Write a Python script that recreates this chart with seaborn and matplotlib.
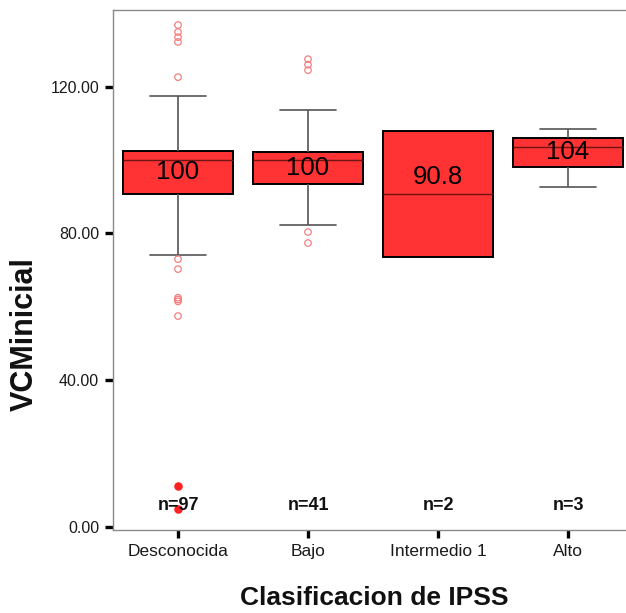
import numpy as np
import pandas as pd
import matplotlib
matplotlib.use("Agg")
import matplotlib.pyplot as plt
import seaborn as sns

# ---------------- data ----------------
categories = ["Desconocida", "Bajo", "Intermedio 1", "Alto"]

vcm_desconocida = [
    4.9, 11.2, 57.5, 61.5, 62.0, 62.5, 70.3, 73.0,
    74.1, 76.5, 78.2, 80.0, 81.3, 82.7, 83.5, 84.6, 85.4, 86.2,
    87.0, 87.8, 88.5, 89.1, 89.8, 90.4,
    90.8,
    91.0, 91.5, 92.0, 92.4, 92.9, 93.3, 93.8, 94.2, 94.6, 95.0,
    95.4, 95.8, 96.2, 96.6, 97.0, 97.4, 97.8, 98.1, 98.4, 98.7,
    99.0, 99.3, 99.6,
    100.0,
    100.0, 100.0, 100.1, 100.2, 100.3, 100.4, 100.5, 100.6, 100.7, 100.8,
    100.9, 101.0, 101.1, 101.2, 101.3, 101.4, 101.5, 101.6, 101.8, 101.9,
    102.0, 102.2, 102.4,
    102.5,
    102.7, 103.0, 103.4, 103.8, 104.2, 104.7, 105.2, 105.8, 106.4, 107.0,
    107.7, 108.5, 109.3, 110.2, 111.2, 112.4, 113.8, 115.5, 117.5,
    122.6, 132.2, 133.5, 134.9, 136.8,
]
vcm_bajo = [
    77.4, 80.4, 82.3, 84.0, 86.5, 88.2, 89.7, 91.0, 92.1, 93.0,
    93.6, 94.3, 95.0, 95.8, 96.5, 97.2, 97.9, 98.5, 99.1, 99.6,
    100.0, 100.2, 100.4, 100.6, 100.8, 101.0, 101.3, 101.6, 101.8, 102.0,
    102.2, 103.0, 104.2, 105.6, 107.4, 109.5, 111.6, 113.6,
    124.5, 126.0, 127.5,
]
vcm_intermedio1 = [73.7, 107.9]
vcm_alto = [92.7, 103.6, 108.4]

group_values = [vcm_desconocida, vcm_bajo, vcm_intermedio1, vcm_alto]

y_ticks = [0, 40, 80, 120]
y_tick_labels = ["0.00", "40.00", "80.00", "120.00"]

x_title = "Clasificacion de IPSS"
y_title = "VCMinicial"

# ---------------- style ----------------
BOX_RED = "#ff3333"
sns.set_style("white")
plt.rcParams["font.family"] = ["Liberation Sans", "DejaVu Sans"]

fig = plt.figure(figsize=(6.26, 6.13), dpi=100)
ax = fig.add_axes([113 / 626, 83 / 613, 513 / 626, 520 / 613])


def tukey_stats(vals):
    v = np.sort(np.asarray(vals, float))
    n = len(v)
    half = (n + 1) // 2
    q1 = np.median(v[:half])
    q3 = np.median(v[n - half:])
    med = np.median(v)
    iqr = q3 - q1
    inside = v[(v >= q1 - 1.5 * iqr) & (v <= q3 + 1.5 * iqr)]
    return dict(q1=q1, q3=q3, med=med, iqr=iqr,
                whislo=inside.min(), whishi=inside.max())


stats = [tukey_stats(v) for v in group_values]

# seaborn boxes for groups where its quartiles equal Tukey hinges (n >= 3)
rows = []
for cat, vals in zip(categories, group_values):
    if len(vals) >= 3:
        rows += [(cat, x) for x in vals]
df = pd.DataFrame(rows, columns=["grupo", "vcm"])

sns.boxplot(
    data=df, x="grupo", y="vcm", order=categories, ax=ax,
    color=BOX_RED, saturation=1, width=0.85, whis=1.5,
    linecolor="black", linewidth=1.4, showfliers=False,
    medianprops=dict(color="#6e1414", linewidth=1.0),
    whiskerprops=dict(color="#555555", linewidth=1.2),
    capprops=dict(color="#555555", linewidth=1.2),
)

# n = 2 group: SPSS draws the box between the two hinges (min and max)
for i, (vals, st) in enumerate(zip(group_values, stats)):
    if len(vals) < 3:
        ax.bxp([dict(med=st["med"], q1=st["q1"], q3=st["q3"],
                     whislo=st["q1"], whishi=st["q3"], fliers=[])],
               positions=[i], widths=[0.85], patch_artist=True,
               showcaps=False, showfliers=False, manage_ticks=False,
               boxprops=dict(facecolor=BOX_RED, edgecolor="black", linewidth=1.4),
               medianprops=dict(color="#6e1414", linewidth=1.0),
               whiskerprops=dict(color="#555555", linewidth=1.2))

# outliers (1.5-3 IQR) and extremes (> 3 IQR)
out_x, out_y, ext_x, ext_y = [], [], [], []
for i, (vals, st) in enumerate(zip(group_values, stats)):
    for v in vals:
        d = max(st["q1"] - v, v - st["q3"])
        if d > 3 * st["iqr"]:
            ext_x.append(i); ext_y.append(v)
        elif d > 1.5 * st["iqr"]:
            out_x.append(i); out_y.append(v)

sns.scatterplot(x=out_x, y=out_y, ax=ax, marker="o", s=22,
                facecolors="none", edgecolor="#f47f7f", linewidth=0.9,
                zorder=4)
sns.scatterplot(x=ext_x, y=ext_y, ax=ax, marker="o", s=38,
                color="#ff2222", edgecolor="#ff2222", linewidth=0,
                zorder=4)

# median labels
for i, st in enumerate(stats):
    center = (st["q1"] + st["q3"]) / 2
    if abs(center - st["med"]) < 0.5:
        ax.text(i, st["med"] + 1.3, f"{st['med']:.3g}", ha="center",
                va="bottom", fontsize=18.5, color="black", zorder=6)
    else:
        ax.text(i, center, f"{st['med']:.3g}", ha="center",
                va="center", fontsize=18.5, color="black", zorder=6)

# n labels
for i, vals in enumerate(group_values):
    ax.text(i, 6.0, f"n={len(vals)}", ha="center", va="center",
            fontsize=13, fontweight="bold", color="#111111", zorder=7)

# axes
ax.set_xlim(-0.5, 3.446)
ax.set_ylim(-0.8, 140.9)
ax.set_yticks(y_ticks)
ax.set_yticklabels(y_tick_labels)
ax.set_xticks(range(len(categories)))
ax.set_xticklabels(categories)
ax.tick_params(axis="both", direction="out", length=6, width=2.4,
               color="black", labelcolor="#1a1a1a", pad=4,
               left=True, bottom=True)
ax.tick_params(axis="y", labelsize=11.5)
ax.tick_params(axis="x", labelsize=12.5)

for side in ["left", "bottom", "top"]:
    ax.spines[side].set_color("#8a8a8a")
    ax.spines[side].set_linewidth(1.0)
    ax.spines[side].set_visible(True)
ax.spines["right"].set_visible(False)

ax.set_xlabel(x_title, fontsize=19, fontweight="bold", color="#111111")
ax.set_ylabel(y_title, fontsize=22, fontweight="bold", color="#111111")
ax.xaxis.set_label_coords(0.51, -0.108)
ax.yaxis.set_label_coords(-0.142, 0.377)

fig.savefig("out.png", dpi=100, facecolor="white")
